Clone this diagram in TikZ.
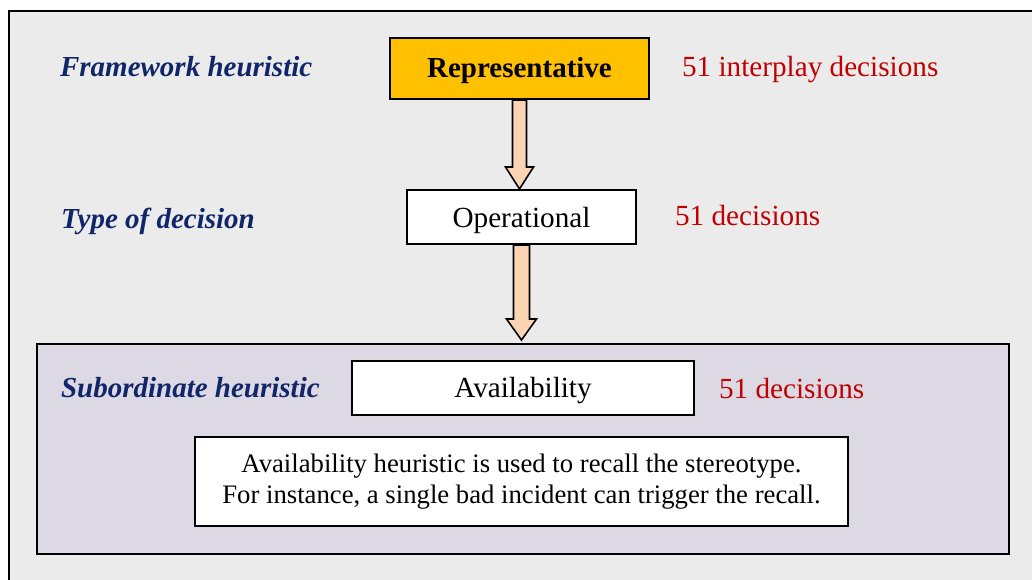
\documentclass[tikz,border=0pt]{standalone}
\usepackage{fontspec}
\setmainfont{Liberation Serif}
\usetikzlibrary{calc}
\definecolor{panelgray}{HTML}{EBEBEB}
\definecolor{subpurple}{HTML}{DDD9E4}
\definecolor{goldbox}{HTML}{FFC000}
\definecolor{peach}{HTML}{FBD4B4}
\definecolor{navy}{RGB}{16,38,104}
\definecolor{darkred}{HTML}{C00000}
\tikzset{
  box/.style={draw=black,line width=1pt,fill=white,inner sep=0pt},
  oneline/.style={text height=12pt,text depth=1.5pt},
  level/.style={anchor=base west,text=navy,font=\fontsize{14.5}{17}\selectfont\bfseries\itshape},
  count/.style={anchor=base west,text=darkred,font=\fontsize{14.6}{17}\selectfont},
  blockarrow/.style={draw=black,line width=0.8pt,fill=peach,line join=miter}
}
\begin{document}
\begin{tikzpicture}[x=0.5pt,y=-0.5pt,font=\fontsize{14.6}{17}\selectfont]
  \useasboundingbox (0,0) rectangle (1032,579);
  % background panels
  \draw[fill=panelgray,line width=1pt] (9,11) rectangle (1045,595);
  \draw[fill=subpurple,line width=1.2pt] (37,344) rectangle (1009,554);
  % boxes
  \node[box,oneline,fill=goldbox,minimum width=129.5pt,minimum height=30.5pt,text height=10.5pt,
        font=\fontsize{14.5}{17}\selectfont\bfseries] (rep) at (519.5,68.5) {Representative};
  \node[box,oneline,minimum width=114.5pt,minimum height=27pt] (op) at (521.5,217) {Operational};
  \node[box,oneline,minimum width=171pt,minimum height=27pt,text height=11pt] (avail) at (523,388) {Availability};
  \node[box,minimum width=326.5pt,minimum height=44.5pt,align=center,
        font=\fontsize{13.35}{15.5}\selectfont] (desc) at (521.5,481.5)
    {Availability heuristic is used to recall the stereotype.\\For instance, a single bad incident can trigger the recall.};
  % labels on the left
  \node[level] (lfw) at (53,76) {Framework heuristic};
  \node[level] (ltype) at (54,228) {Type of decision};
  \node[level] (lsub) at (54,397) {Subordinate heuristic};
  % counts on the right
  \node[count] (nrep) at (675,76) {51 interplay decisions};
  \node[count] (nop) at (668,225) {51 decisions};
  \node[count] (navail) at (712,398) {51 decisions};
  % block arrows
  \draw[blockarrow] let \p1=(rep.south), \p2=(op.north) in
    (\x1-3.5pt,\y1) -- (\x1+3.5pt,\y1) -- (\x1+3.5pt,\y2+11pt) -- (\x1+7pt,\y2+11pt)
    -- (\x1,\y2) -- (\x1-7pt,\y2+11pt) -- (\x1-3.5pt,\y2+11pt) -- cycle;
  \draw[blockarrow] let \p1=(op.south), \p2=(37,344) in
    (\x1-4pt,\y1) -- (\x1+4pt,\y1) -- (\x1+4pt,\y2+12.5pt) -- (\x1+7.5pt,\y2+12.5pt)
    -- (\x1,\y2+2pt) -- (\x1-7.5pt,\y2+12.5pt) -- (\x1-4pt,\y2+12.5pt) -- cycle;
\end{tikzpicture}
\end{document}
